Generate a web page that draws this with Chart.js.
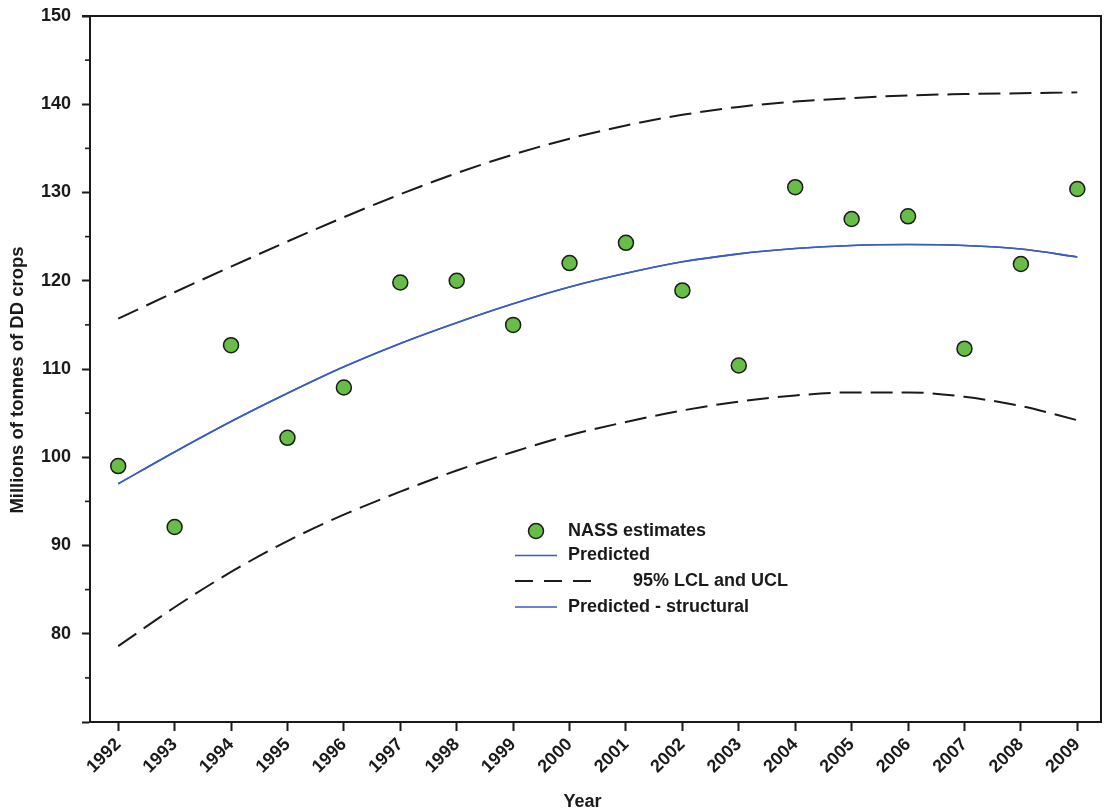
<!DOCTYPE html>
<html>
<head>
<meta charset="utf-8">
<title>DD crops: NASS estimates and predicted values</title>
<script src="https://cdn.jsdelivr.net/npm/chart.js@4.4.1/dist/chart.umd.min.js"></script>
<style>
  html, body { margin: 0; padding: 0; background: #ffffff; }
  #wrap { width: 1106px; height: 812px; }
</style>
</head>
<body>
<div id="wrap"><canvas id="chart" width="1106" height="812"></canvas></div>
<script>
// Crop years
const years = [1992, 1993, 1994, 1995, 1996, 1997, 1998, 1999, 2000,
               2001, 2002, 2003, 2004, 2005, 2006, 2007, 2008, 2009];

// NASS estimates, millions of tonnes
const nassEstimates = [99.0, 92.1, 112.7, 102.2, 107.9, 119.8, 120.0, 115.0, 122.0,
                       124.3, 118.9, 110.4, 130.6, 127.0, 127.3, 112.3, 121.9, 130.4];

// Model prediction
const predicted = [97.0, 100.6, 104.05, 107.25, 110.25, 112.9, 115.25, 117.4, 119.3,
                   120.85, 122.15, 123.05, 123.65, 124.0, 124.1, 124.0, 123.6, 122.7];

// Structural prediction (coincides with the prediction)
const predictedStructural = [97.0, 100.6, 104.05, 107.25, 110.25, 112.9, 115.25, 117.4, 119.3,
                             120.85, 122.15, 123.05, 123.65, 124.0, 124.1, 124.0, 123.6, 122.7];

// 95% confidence limits
const lowerCL = [78.6, 83.0, 87.0, 90.5, 93.5, 96.1, 98.5, 100.6, 102.5,
                 104.0, 105.3, 106.3, 107.0, 107.35, 107.35, 106.85, 105.8, 104.2];
const upperCL = [115.7, 118.7, 121.6, 124.45, 127.2, 129.8, 132.2, 134.3, 136.1,
                 137.6, 138.8, 139.7, 140.3, 140.7, 141.0, 141.15, 141.25, 141.35];

// Y axis ticks (every 5, labelled every 10 from 80)
const yTicks = [70, 75, 80, 85, 90, 95, 100, 105, 110, 115, 120, 125, 130, 135, 140, 145, 150];
const yLabelled = [80, 90, 100, 110, 120, 130, 140, 150];

// Axis titles
const xTitle = 'Year';
const yTitle = 'Millions of tonnes of DD crops';

const FONT = "'Liberation Sans', Arial, Helvetica, sans-serif";
const INK = '#1a1a1a';
const BLUE = '#3b5cc4';
const GREEN = '#67bd45';
const DASH = [22, 9];

const toPoints = arr => arr.map((v, i) => ({ x: years[i], y: v }));

const frameAndLegend = {
  id: 'frameAndLegend',
  afterDraw(chart) {
    const ctx = chart.ctx;
    const a = chart.chartArea;
    const ys = chart.scales.y;
    ctx.save();
    // top and right borders of the plot box
    ctx.strokeStyle = INK;
    ctx.lineWidth = 2;
    ctx.beginPath();
    ctx.moveTo(a.left - 8, a.top);
    ctx.lineTo(a.right, a.top);
    ctx.lineTo(a.right, a.bottom);
    ctx.stroke();
    // minor y ticks
    ctx.lineWidth = 1.6;
    yTicks.filter(v => !yLabelled.includes(v) && v !== 70).forEach(v => {
      const py = ys.getPixelForValue(v);
      ctx.beginPath();
      ctx.moveTo(a.left - 5, py);
      ctx.lineTo(a.left, py);
      ctx.stroke();
    });

    // axis titles
    ctx.fillStyle = INK;
    ctx.textAlign = 'center';
    ctx.textBaseline = 'middle';
    ctx.font = 'bold 18px ' + FONT;
    ctx.fillText(xTitle, (a.left + a.right) / 2 - 13, chart.height - 10);
    ctx.save();
    ctx.translate(18, (a.top + a.bottom) / 2 + 11);
    ctx.rotate(-Math.PI / 2);
    ctx.font = 'bold 18.5px ' + FONT;
    ctx.fillText(yTitle, 0, 0);
    ctx.restore();

    // legend
    const ds = chart.data.datasets;
    const lx = a.left + 425;
    const tx = a.left + 478;
    const rows = [a.top + 515, a.top + 539.5, a.top + 565, a.top + 591];
    ctx.font = 'bold 18px ' + FONT;
    ctx.fillStyle = INK;
    ctx.textBaseline = 'middle';
    ctx.textAlign = 'left';

    // points
    ctx.beginPath();
    ctx.arc(lx + 21, rows[0], 7.5, 0, Math.PI * 2);
    ctx.fillStyle = ds[0].backgroundColor;
    ctx.fill();
    ctx.lineWidth = 1.5;
    ctx.strokeStyle = ds[0].borderColor;
    ctx.stroke();
    ctx.fillStyle = INK;
    ctx.fillText(ds[0].label, tx, rows[0]);

    // predicted
    ctx.strokeStyle = ds[1].borderColor;
    ctx.lineWidth = ds[1].borderWidth;
    ctx.beginPath();
    ctx.moveTo(lx, rows[1]);
    ctx.lineTo(lx + 42, rows[1]);
    ctx.stroke();
    ctx.fillText(ds[1].label, tx, rows[1]);

    // confidence limits
    ctx.strokeStyle = ds[2].borderColor;
    ctx.lineWidth = ds[2].borderWidth;
    ctx.setLineDash([18, 11]);
    ctx.beginPath();
    ctx.moveTo(lx, rows[2]);
    ctx.lineTo(lx + 85, rows[2]);
    ctx.stroke();
    ctx.setLineDash([]);
    ctx.fillText(ds[2].label, tx + 65, rows[2]);

    // structural
    ctx.strokeStyle = ds[4].borderColor;
    ctx.lineWidth = ds[4].borderWidth;
    ctx.beginPath();
    ctx.moveTo(lx, rows[3]);
    ctx.lineTo(lx + 42, rows[3]);
    ctx.stroke();
    ctx.fillText(ds[4].label, tx, rows[3]);
    ctx.restore();
  }
};

const lineBase = {
  type: 'line',
  pointRadius: 0,
  pointHoverRadius: 0,
  fill: false,
  cubicInterpolationMode: 'monotone'
};

new Chart(document.getElementById('chart'), {
  type: 'scatter',
  data: {
    datasets: [
      {
        label: 'NASS estimates',
        data: toPoints(nassEstimates),
        backgroundColor: GREEN,
        borderColor: INK,
        borderWidth: 1.5,
        pointRadius: 7.5,
        pointHoverRadius: 7.5,
        showLine: false
      },
      Object.assign({}, lineBase, {
        label: 'Predicted',
        data: toPoints(predicted),
        borderColor: BLUE,
        borderWidth: 1.6
      }),
      Object.assign({}, lineBase, {
        label: '95% LCL and UCL',
        data: toPoints(lowerCL),
        borderColor: INK,
        borderWidth: 2,
        borderDash: DASH
      }),
      Object.assign({}, lineBase, {
        label: '95% UCL',
        data: toPoints(upperCL),
        borderColor: INK,
        borderWidth: 2,
        borderDash: DASH
      }),
      Object.assign({}, lineBase, {
        label: 'Predicted - structural',
        data: toPoints(predictedStructural),
        borderColor: BLUE,
        borderWidth: 1.6
      })
    ]
  },
  options: {
    responsive: false,
    animation: false,
    events: [],
    layout: { autoPadding: false, padding: { left: 0, right: 5, top: 16, bottom: 0 } },
    plugins: {
      legend: { display: false },
      tooltip: { enabled: false }
    },
    scales: {
      x: {
        type: 'linear',
        min: 1991.5,
        max: 2009.42,
        afterBuildTicks(scale) { scale.ticks = years.map(v => ({ value: v })); },
        afterFit(scale) {
          scale.height = 90;
          scale.paddingLeft = 0;
          scale.paddingRight = 0;
        },
        border: { display: true, color: INK, width: 2 },
        grid: { drawOnChartArea: false, drawTicks: true, tickLength: 9, tickWidth: 2, tickColor: INK },
        ticks: {
          autoSkip: false,
          minRotation: 45,
          maxRotation: 45,
          padding: 3,
          color: INK,
          font: { family: FONT, size: 18, weight: 'bold' },
          callback: v => String(v)
        },
        title: { display: false }
      },
      y: {
        min: 70,
        max: 150,
        afterBuildTicks(scale) { scale.ticks = yTicks.map(v => ({ value: v })); },
        afterFit(scale) {
          scale.width = 90;
          scale.paddingTop = 0;
          scale.paddingBottom = 0;
        },
        border: { display: true, color: INK, width: 2 },
        grid: {
          drawOnChartArea: false,
          drawTicks: true,
          tickLength: 8,
          tickWidth: 2,
          tickColor: c => (yLabelled.includes(c.tick.value) || c.tick.value === 70) ? INK : 'rgba(0,0,0,0)'
        },
        ticks: {
          autoSkip: false,
          padding: 11,
          color: INK,
          font: { family: FONT, size: 18, weight: 'bold' },
          callback: v => yLabelled.includes(v) ? String(v) : ''
        },
        title: { display: false }
      }
    }
  },
  plugins: [frameAndLegend]
});
</script>
</body>
</html>
